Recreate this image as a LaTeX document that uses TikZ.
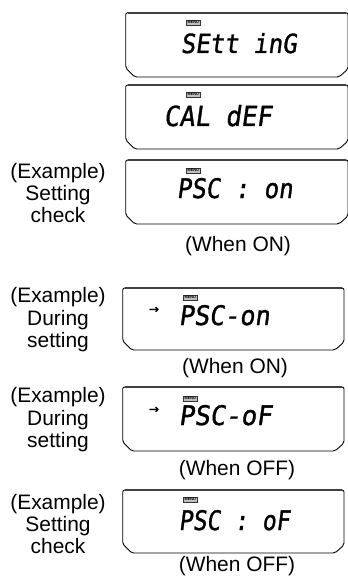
\documentclass[tikz,border=0pt]{standalone}
\usepackage{graphicx}
\usepackage{fontspec}
\setmainfont{Liberation Sans}
\newfontfamily\lcdfont{DejaVu Sans Mono}[FakeSlant=0.15,FakeBold=1.2]
\newfontfamily\symfont{DejaVu Sans}[FakeBold=2]
\tikzset{
  frame/.style={draw=black, line width=0.9bp, rounded corners=2bp, line join=round},
  topline/.style={draw=black!75, line width=1.7bp},
  lbl/.style={align=center, inner sep=0pt, font=\fontsize{21}{22.5}\selectfont},
  cond/.style={anchor=base, inner sep=0pt, font=\fontsize{21}{22.5}\selectfont},
  menu/.style={anchor=north west, draw=black!80, fill=black!25, line width=0.4bp, inner sep=0pt,
    minimum width=14bp, minimum height=5bp, font=\fontsize{3.8}{4}\selectfont\bfseries},
  lcd/.style={anchor=base west, inner sep=0pt},
  pointer/.style={inner sep=0pt, font=\symfont\fontsize{12}{12}\selectfont},
}
\newcommand\lcdframe[4]{%
  \draw[frame] (#1,#2) -- (#3,#2) -- (#3,#4-8) -- (#3-9,#4) -- (#1+9,#4) -- (#1,#4-9) -- cycle;
  \draw[topline] (#1+2,#2) -- (#3-2,#2);
}
\begin{document}
\begin{tikzpicture}[x=1bp,y=-1bp]
\useasboundingbox (0,0) rectangle (347,576);

% display frames
\lcdframe{125.7}{12.7}{348}{77}
\lcdframe{125.7}{85}{348}{149}
\lcdframe{125.7}{160}{348}{224}
\lcdframe{122.7}{288}{344}{350}
\lcdframe{122.7}{387}{344}{451}
\lcdframe{122.7}{490}{344}{553}

% MENU indicators
\node[menu] (m1) at (186,20) {MENU};
\node[menu] (m2) at (186,92) {MENU};
\node[menu] (m3) at (186,168) {MENU};
\node[menu] (m4) at (183,295) {MENU};
\node[menu] (m5) at (183,396) {MENU};
\node[menu] (m6) at (183,497) {MENU};

% LCD texts
\node[lcd] (d1) at (180.5,53) {\resizebox{116bp}{20bp}{\lcdfont SEtt inG}};
\node[lcd] (d2) at (163.5,126) {\resizebox{108bp}{21bp}{\lcdfont CAL dEF}};
\node[lcd] (d3) at (176.5,198) {\resizebox{116bp}{20bp}{\lcdfont PSC : on}};
\node[lcd] (d4) at (178.5,325) {\resizebox{91bp}{20bp}{\lcdfont PSC-on}};
\node[lcd] (d5) at (178.5,425) {\resizebox{93bp}{20bp}{\lcdfont PSC-oF}};
\node[lcd] (d6) at (178.5,530) {\resizebox{111bp}{20bp}{\lcdfont PSC : oF}};

% pointer arrows
\node[pointer] (p4) at (154,310) {→};
\node[pointer] (p5) at (154,410) {→};

% left labels
\node[lbl] (l3) at (58,193) {(Example)\\Setting\\check};
\node[lbl] (l4) at (58,320) {(Example)\\During\\setting};
\node[lbl] (l5) at (58,420) {(Example)\\During\\setting};
\node[lbl] (l6) at (58,524) {(Example)\\Setting\\check};

% condition captions
\node[cond] (c3) at (238,251) {(When ON)};
\node[cond] (c4) at (235,373) {(When ON)};
\node[cond] (c5) at (237,475) {(When OFF)};
\node[cond] (c6) at (237,571) {(When OFF)};
\end{tikzpicture}
\end{document}
